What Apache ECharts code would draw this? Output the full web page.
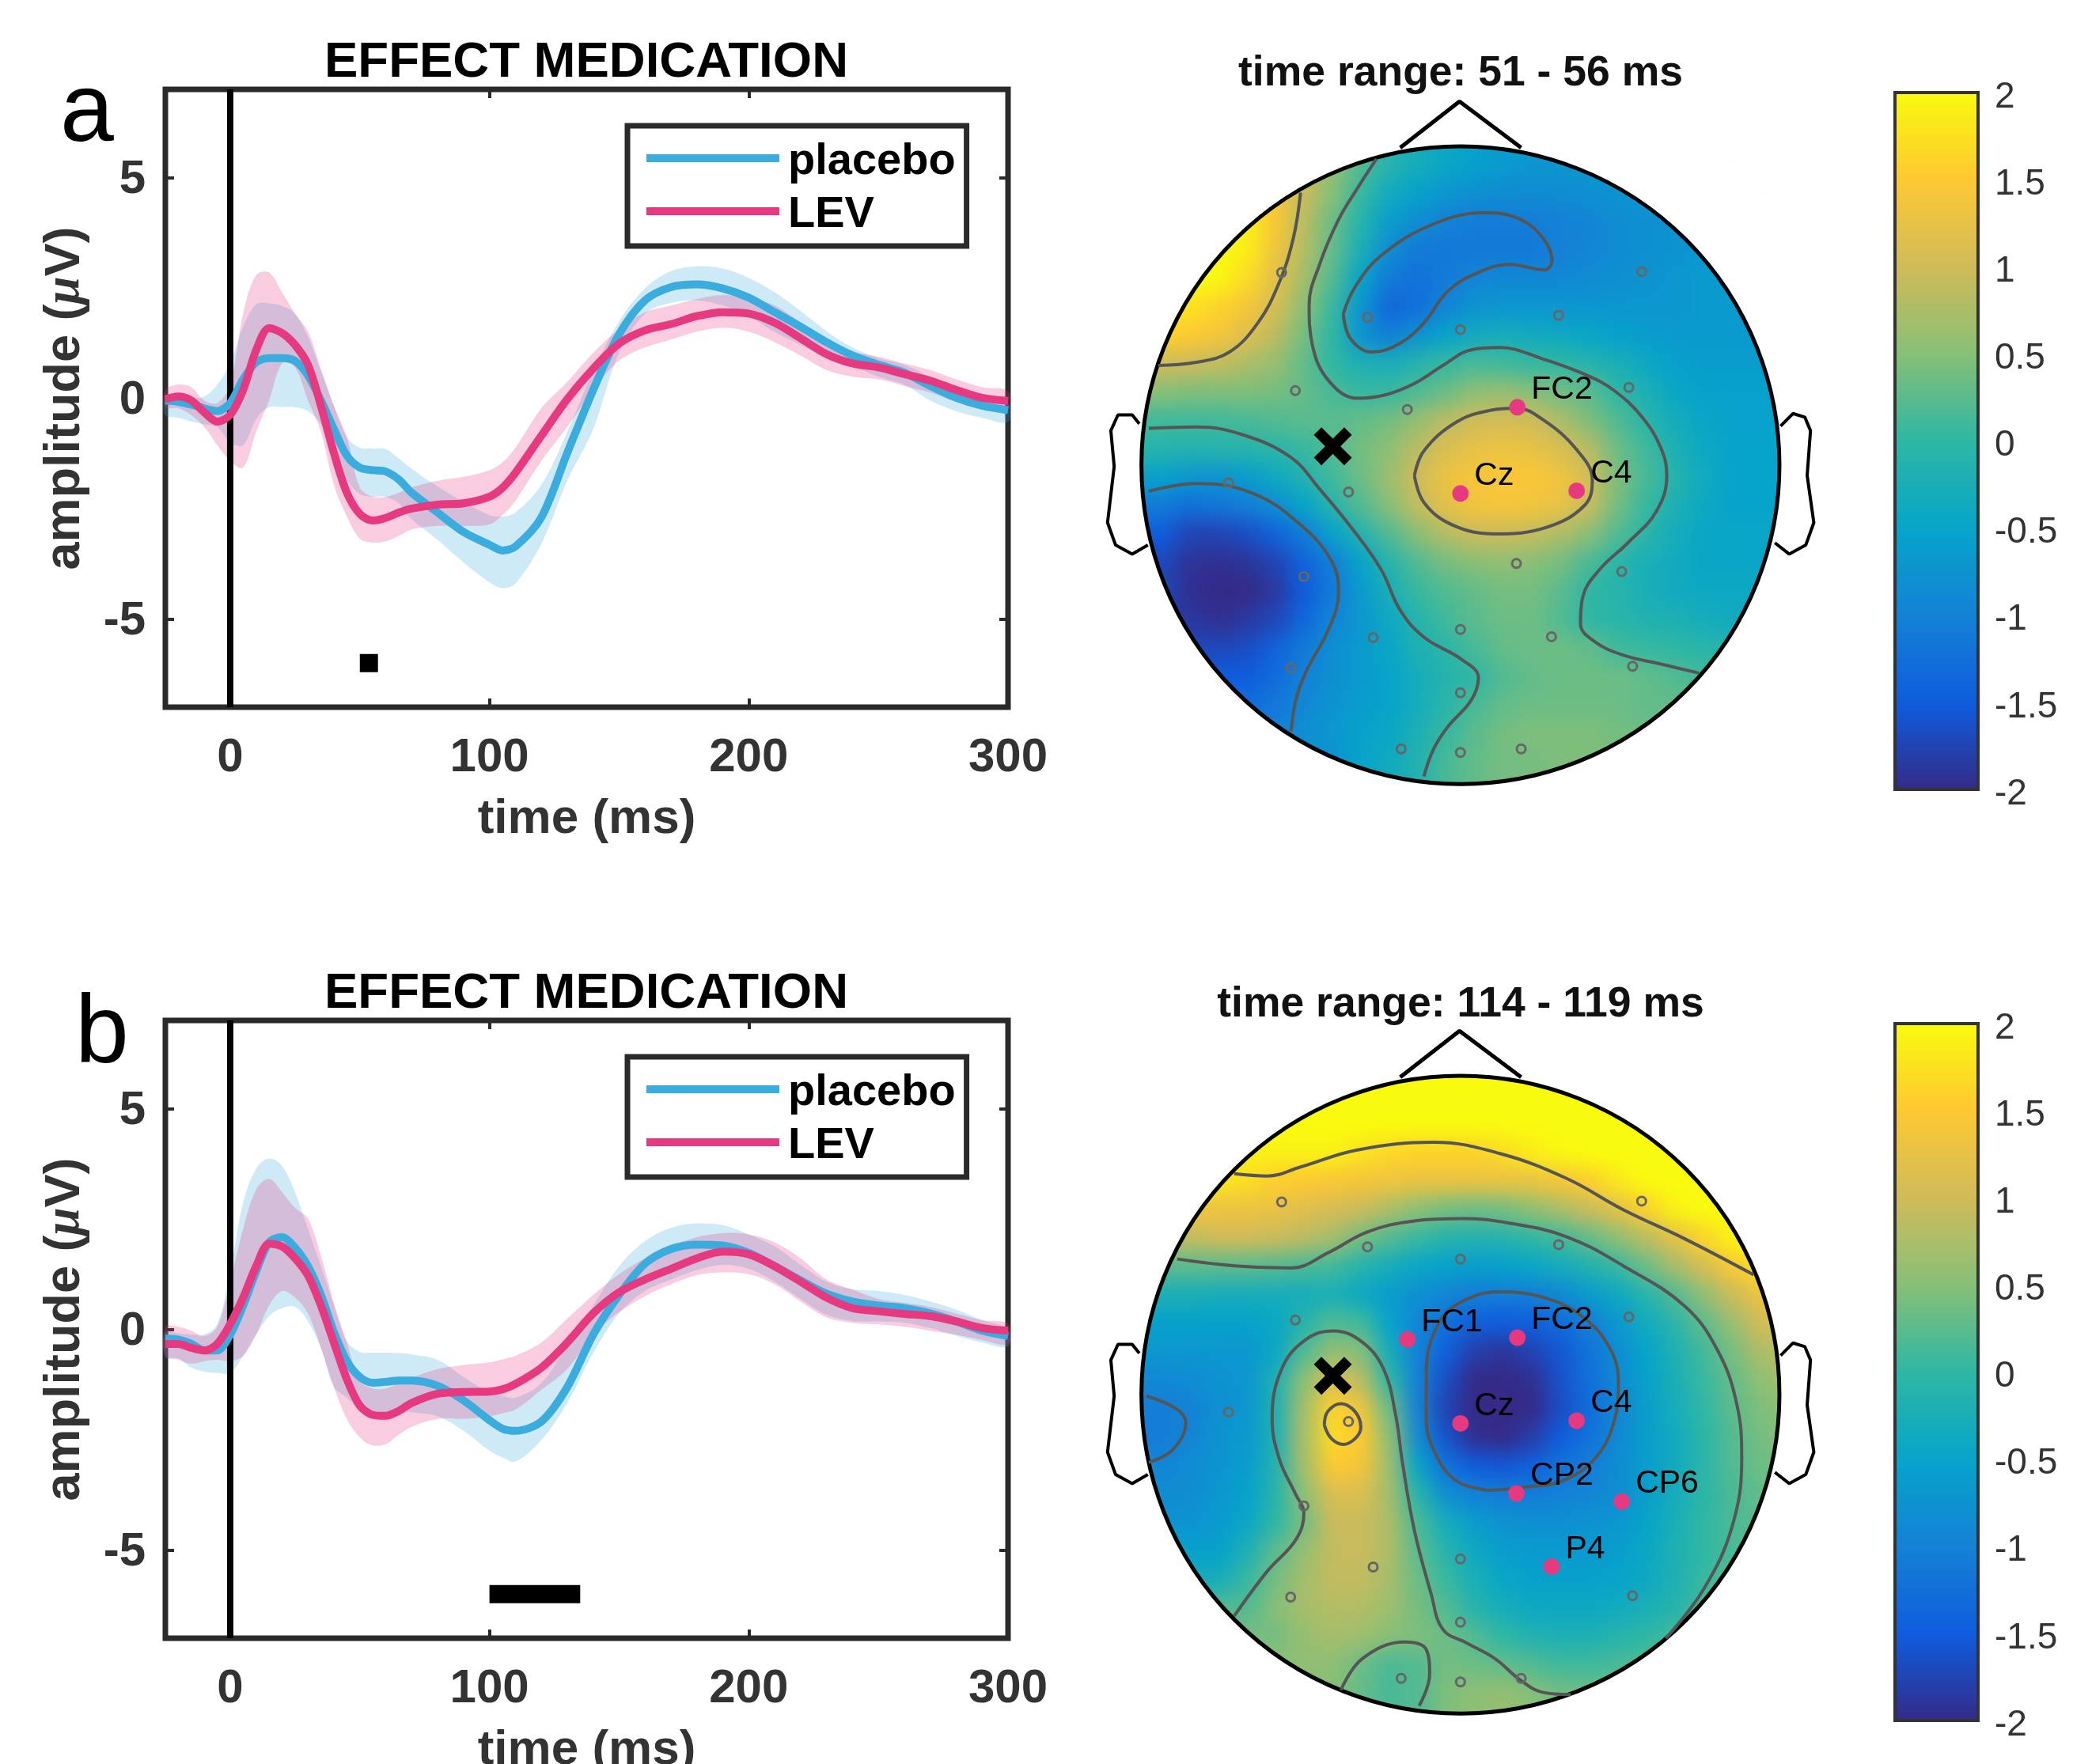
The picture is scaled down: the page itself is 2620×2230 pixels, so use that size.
<!DOCTYPE html>
<html><head><meta charset="utf-8">
<style>html,body{margin:0;padding:0;background:#fff}#main{width:2620px;height:2230px}
canvas[data-zr-dom-id="zr_-1"]{filter:blur(13px)}</style>
<script src="https://cdn.jsdelivr.net/npm/echarts@6/dist/echarts.min.js"></script></head>
<body><div id="main"></div>
<script>
const times=[-25,-20,-15,-10,-5,0,5,10,15,20,25,30,35,40,45,50,55,60,65,70,80,90,100,105,110,120,130,140,150,160,170,180,190,200,210,220,230,240,250,260,270,280,290,300];
const aPlacebo=[-.05,-.08,-.14,-.23,-.29,-.11,.43,.82,.91,.91,.85,.52,-.05,-.7,-1.3,-1.57,-1.63,-1.66,-1.84,-2.14,-2.59,-3.03,-3.32,-3.45,-3.36,-2.7,-1.24,.19,1.45,2.22,2.52,2.58,2.49,2.28,1.95,1.62,1.27,.97,.76,.58,.28,.01,-.17,-.27];
const aPlaceboHi=[.07,.04,.01,.04,.31,.79,1.62,2.13,2.15,2.09,1.92,1.39,.61,-.17,-.88,-1.12,-1.14,-1.15,-1.36,-1.6,-2,-2.35,-2.65,-2.68,-2.59,-1.96,-.76,.61,1.74,2.49,2.88,2.99,2.94,2.73,2.4,1.98,1.52,1.15,.91,.76,.49,.25,.04,-.11];
const aPlaceboLo=[-.38,-.44,-.53,-.59,-.65,-1,-1.06,-.47,-.2,-.2,-.2,-.29,-.59,-1.24,-1.84,-2.17,-2.23,-2.23,-2.38,-2.74,-3.21,-3.72,-4.17,-4.3,-4.2,-3.3,-1.87,-.7,1.03,1.92,2.16,2.22,2.1,1.86,1.5,1.21,.91,.73,.49,.31,-.05,-.29,-.44,-.54];
const aLev=[-.02,.04,-.05,-.32,-.53,-.38,.19,1.09,1.59,1.48,1.21,.76,-.17,-1.24,-2.14,-2.62,-2.77,-2.71,-2.59,-2.5,-2.41,-2.38,-2.23,-2.03,-1.69,-.85,-.02,.67,1.24,1.54,1.68,1.86,1.95,1.92,1.71,1.36,1,.79,.7,.55,.4,.19,.01,-.06];
const aLevHi=[.19,.31,.25,-.05,-.11,.31,1.92,2.79,2.85,2.4,1.92,1.51,.67,-.17,-.88,-2.02,-2.23,-2.23,-2.14,-2.02,-1.87,-1.78,-1.63,-1.45,-1.12,-.23,.37,1.03,1.57,1.95,2.1,2.25,2.34,2.28,2.1,1.71,1.27,1.06,.94,.79,.64,.43,.25,.16];
const aLevLo=[-.2,-.23,-.38,-.65,-1.06,-1.42,-1.57,-.76,-.05,.79,.7,-.05,-.76,-1.96,-2.68,-3.18,-3.27,-3.24,-3.12,-2.97,-2.89,-2.89,-2.86,-2.65,-2.32,-1.42,-.65,.19,.85,1.15,1.33,1.51,1.6,1.51,1.27,.97,.64,.49,.43,.28,.13,-.08,-.23,-.29];
const bPlacebo=[-.21,-.23,-.33,-.48,-.48,-.12,.54,1.31,1.97,2.09,1.85,1.43,.78,-.06,-.72,-1.08,-1.21,-1.19,-1.16,-1.16,-1.28,-1.61,-2.06,-2.25,-2.3,-2.09,-1.31,-.12,.78,1.49,1.82,1.92,1.9,1.73,1.43,1.11,.81,.63,.54,.48,.36,.18,-.03,-.15];
const bPlaceboHi=[-.06,-.09,-.12,-.12,.12,1.31,2.87,3.64,3.87,3.7,3.11,2.27,1.43,.54,-.27,-.51,-.53,-.53,-.54,-.57,-.69,-1.08,-1.43,-1.5,-1.55,-1.22,-.36,.54,1.43,2,2.3,2.4,2.36,2.15,1.88,1.46,1.08,.91,.87,.78,.63,.45,.21,0];
const bPlaceboLo=[-.63,-.66,-.87,-.96,-.99,-.99,-.6,-.12,.3,.48,.51,.18,-.42,-1.31,-1.55,-1.82,-1.88,-1.88,-1.88,-1.88,-1.97,-2.3,-2.75,-2.9,-3,-2.51,-1.67,-.54,.36,.87,1.13,1.34,1.46,1.37,1.08,.69,.33,.19,.18,.15,.03,-.15,-.3,-.39];
const bLev=[-.33,-.33,-.42,-.48,-.33,.12,.72,1.43,1.94,1.88,1.61,1.22,.54,-.3,-1.13,-1.73,-1.94,-1.96,-1.85,-1.67,-1.46,-1.42,-1.41,-1.36,-1.24,-.87,-.3,.36,.84,1.13,1.37,1.61,1.76,1.7,1.43,1.08,.72,.48,.41,.35,.3,.18,.03,-.03];
const bLevHi=[.06,.06,-.03,-.15,.06,1.08,2.28,3.17,3.41,3.11,2.75,2.51,1.67,.6,-.3,-1.16,-1.34,-1.34,-1.22,-1.1,-.9,-.81,-.75,-.68,-.6,-.3,.24,.78,1.25,1.61,1.88,2.09,2.18,2.15,1.97,1.61,1.13,.9,.69,.6,.51,.36,.21,.12];
const bLevLo=[-.6,-.69,-.78,-.72,-.69,-.72,-.6,-.12,.54,.87,.72,.36,-.42,-1.31,-2.03,-2.45,-2.63,-2.6,-2.39,-2.21,-2.03,-2.03,-1.97,-1.9,-1.82,-1.37,-.9,-.12,.39,.75,1.02,1.23,1.29,1.25,1.02,.63,.27,.15,.11,.06,-.03,-.12,-.24,-.33];
const sigA=[50,57], sigB=[100,135], sigLevel=-6;
const xTicks=[0,100,200,300], yTicks=[-5,0,5];
const seriesNames=['placebo','LEV'];
const titleText='EFFECT MEDICATION', xName='time (ms)';
const rangeA='time range: 51 - 56 ms', rangeB='time range: 114 - 119 ms';
const parula=['#352A87','#0F5CDD','#1481D6','#06A4CA','#2EB7A4','#87BF77','#D1BB59','#FEC832','#F9FB0E'];
const mapA=[
[1,1,1,1,1,1,1,.6,.2,-.1,-.3,-.45,-.55,-.65,-.7,-.7,-.7,-.7,-.7,-.7,-.7,-.7,-.7,-.7],
[1,1,1,1,1,1,1,.6,.2,-.1,-.3,-.45,-.55,-.65,-.7,-.7,-.7,-.7,-.7,-.7,-.7,-.7,-.7,-.7],
[1.7,1.7,1.7,1.7,1.7,1.4,.95,.5,.05,-.35,-.55,-.7,-.8,-.85,-.85,-.85,-.8,-.75,-.7,-.7,-.65,-.65,-.65,-.65],
[2,2,2,2,1.9,1.45,.85,.35,-.1,-.6,-.85,-1,-1.05,-1.05,-1.05,-1,-.95,-.85,-.8,-.75,-.7,-.65,-.65,-.65],
[2,2,2,2,1.85,1.35,.8,.3,-.25,-.85,-1.1,-1.12,-1.1,-1.1,-1.1,-1.02,-.95,-.85,-.8,-.75,-.7,-.65,-.65,-.65],
[2,2,2,1.95,1.7,1.2,.7,.2,-.5,-1.1,-1.2,-1.1,-.95,-.9,-.9,-.9,-.85,-.8,-.75,-.7,-.65,-.65,-.65,-.65],
[1.9,1.9,1.75,1.6,1.4,1.05,.55,.05,-.7,-1.35,-1.25,-.95,-.75,-.7,-.7,-.7,-.7,-.7,-.7,-.7,-.65,-.65,-.65,-.65],
[1.6,1.6,1.5,1.4,1.15,.85,.4,0,-.75,-1.05,-.75,-.5,-.35,-.3,-.35,-.4,-.45,-.55,-.6,-.65,-.65,-.65,-.65,-.65],
[1,1,.95,.9,.75,.6,.3,0,-.2,-.25,-.1,.05,.15,.1,.05,0,-.1,-.25,-.4,-.55,-.6,-.6,-.6,-.6],
[.5,.5,.45,.45,.45,.4,.3,.15,.05,.05,.2,.35,.55,.6,.5,.4,.25,0,-.2,-.45,-.55,-.55,-.55,-.55],
[.1,.1,.1,.1,.15,.2,.25,.25,.3,.4,.6,.85,1,1.05,1,.75,.45,.2,-.05,-.3,-.45,-.55,-.55,-.55],
[-.1,-.1,-.15,-.1,-.1,-.05,.05,.2,.4,.55,.85,1.1,1.25,1.3,1.25,1.1,.85,.35,.1,-.2,-.4,-.5,-.5,-.5],
[-.55,-.55,-.7,-.75,-.6,-.4,-.15,.1,.35,.65,1,1.3,1.4,1.45,1.45,1.35,1.05,.45,.15,-.1,-.35,-.5,-.5,-.5],
[-1.1,-1.1,-1.25,-1.15,-1.05,-.85,-.5,-.1,.2,.5,.9,1.2,1.35,1.4,1.35,1.25,.95,.4,.05,-.2,-.4,-.5,-.5,-.5],
[-1.5,-1.5,-1.75,-1.75,-1.65,-1.4,-1.1,-.55,-.15,.2,.5,.8,.95,.95,.9,.75,.5,.2,-.05,-.3,-.45,-.45,-.45,-.45],
[-1.7,-1.7,-1.9,-1.95,-1.9,-1.75,-1.4,-1.05,-.5,-.1,.2,.4,.5,.55,.5,.4,.15,-.05,-.25,-.35,-.45,-.45,-.45,-.45],
[-1.7,-1.7,-1.95,-2,-2,-1.85,-1.5,-1.1,-.65,-.25,.05,.2,.3,.4,.4,.25,0,-.1,-.25,-.35,-.4,-.4,-.4,-.4],
[-1.85,-1.85,-1.85,-1.95,-1.85,-1.7,-1.35,-.95,-.7,-.4,-.1,.1,.25,.35,.35,.2,0,-.05,-.15,-.2,-.3,-.35,-.35,-.35],
[-1.7,-1.7,-1.7,-1.7,-1.65,-1.4,-1.1,-.8,-.65,-.45,-.2,-.05,.15,.3,.35,.35,.3,.1,.05,0,-.05,-.1,-.1,-.1],
[-1.5,-1.5,-1.5,-1.5,-1.5,-1.3,-1,-.8,-.65,-.5,-.3,-.1,0,.2,.3,.35,.35,.35,.3,.2,.1,.1,.1,.1],
[-1.3,-1.3,-1.3,-1.3,-1.25,-1.15,-.9,-.75,-.6,-.5,-.3,-.05,.15,.3,.35,.35,.35,.35,.3,.3,.3,.3,.3,.3],
[-1,-1,-1,-1,-1,-1,-.8,-.7,-.55,-.45,-.2,.05,.25,.4,.45,.45,.45,.4,.35,.3,.3,.3,.3,.3],
[-.8,-.8,-.8,-.8,-.8,-.8,-.8,-.8,-.5,-.35,-.15,.15,.3,.4,.4,.45,.45,.4,.4,.4,.4,.4,.4,.4],
[-.8,-.8,-.8,-.8,-.8,-.8,-.8,-.8,-.5,-.35,-.15,.15,.3,.4,.4,.45,.45,.4,.4,.4,.4,.4,.4,.4]];
const mapB=[
[2,2,2,2,2,2,2,2,2,2,2,2,2,2,2,2,2,2,2,2,2,2,2,2],
[2,2,2,2,2,2,2,2,2,2,2,2,2,2,2,2,2,2,2,2,2,2,2,2],
[2,2,2,2,2,2,2,2,2,2,2,2,2,2,2,2,2,2,2,2,2,2,2,2],
[1.9,1.9,1.9,1.9,1.9,1.9,1.9,1.9,1.75,1.65,1.6,1.6,1.6,1.7,1.85,1.95,2,2,2,2,2,2,2,2],
[1.8,1.8,1.8,1.8,1.7,1.55,1.5,1.45,1.4,1.35,1.3,1.3,1.3,1.3,1.3,1.4,1.55,1.8,2,2,2,2,2,2],
[1.4,1.4,1.4,1.3,1.3,1.25,1.15,1.05,.95,.75,.55,.4,.35,.4,.55,.75,.95,1.2,1.55,1.9,2,2,2,2],
[.9,.9,.9,1,1,.95,.85,.7,.4,.2,.05,-.1,-.15,-.1,0,.1,.3,.55,.85,1.2,1.6,1.9,2,2],
[.25,.25,.25,.25,.25,.2,.15,.1,-.1,-.3,-.45,-.55,-.6,-.55,-.45,-.3,-.15,.05,.35,.7,1.05,1.45,1.7,1.7],
[-.25,-.25,-.25,-.3,-.3,-.3,-.3,-.25,-.4,-.6,-.8,-.95,-1.05,-1.05,-1.05,-.9,-.65,-.4,-.1,.2,.55,.95,1.3,1.3],
[-.55,-.55,-.55,-.55,-.55,-.45,-.1,.2,.1,-.5,-.95,-1.25,-1.45,-1.5,-1.45,-1.3,-1.05,-.7,-.35,-.05,.25,.6,1,1.1],
[-.7,-.7,-.7,-.7,-.7,-.45,.2,.6,.5,-.3,-1,-1.45,-1.8,-1.9,-1.75,-1.55,-1.2,-.85,-.5,-.2,.1,.4,.75,.85],
[-.9,-.9,-.85,-.75,-.7,-.2,.55,1.1,.85,0,-1,-1.65,-2,-2,-1.95,-1.6,-1.25,-.9,-.55,-.25,.05,.3,.55,.7],
[-1.05,-1.05,-1,-.8,-.7,-.2,.7,1.6,1.35,.35,-1,-1.75,-2,-2,-2,-1.65,-1.3,-.95,-.6,-.3,0,.25,.45,.55],
[-1.05,-1.05,-.95,-.75,-.65,-.2,.75,1.7,1.5,.55,-.85,-1.6,-1.95,-2,-1.8,-1.5,-1.2,-.9,-.6,-.35,-.05,.2,.4,.5],
[-.95,-.95,-.85,-.75,-.6,-.15,.7,1.5,1.4,.65,-.5,-1.2,-1.5,-1.55,-1.45,-1.2,-1.05,-.85,-.6,-.35,-.05,.2,.35,.4],
[-.85,-.85,-.85,-.7,-.55,-.1,.55,1.1,1.1,.7,-.1,-.8,-1,-1.05,-1.05,-1,-.95,-.85,-.6,-.3,-.05,.15,.3,.3],
[-.75,-.75,-.75,-.65,-.45,0,.4,.95,.95,.75,.15,-.3,-.6,-.75,-.8,-.8,-.75,-.7,-.5,-.25,0,.15,.25,.3],
[-.55,-.55,-.55,-.55,-.2,.25,.6,.9,.95,.75,.25,-.1,-.4,-.6,-.65,-.65,-.65,-.6,-.45,-.2,0,.15,.25,.3],
[-.3,-.3,-.3,-.3,.05,.4,.7,.9,.9,.7,.35,.05,-.25,-.45,-.55,-.55,-.55,-.5,-.4,-.2,.05,.2,.25,.3],
[.2,.2,.2,.2,.2,.5,.7,.8,.8,.65,.4,.2,-.1,-.3,-.4,-.4,-.4,-.35,-.25,-.1,.1,.25,.25,.25],
[.4,.4,.4,.4,.4,.4,.6,.7,.65,.5,.45,.35,.2,0,-.15,-.2,-.2,-.1,0,.1,.2,.25,.25,.25],
[.55,.55,.55,.55,.55,.55,.55,.55,.35,.15,.2,.4,.35,.3,.2,.1,.1,.15,.2,.3,.3,.3,.3,.3],
[.5,.5,.5,.5,.5,.5,.5,.5,.3,.15,.2,.45,.55,.6,.5,.4,.35,.35,.35,.35,.35,.35,.35,.35],
[.5,.5,.5,.5,.5,.5,.5,.5,.3,.15,.2,.45,.55,.6,.5,.4,.35,.35,.35,.35,.35,.35,.35,.35]];
const greyElectrodes=[[400,378],[1159,376],[581,478],[984,473],[777,505],[429,641],[1132,634],[665,683],[288,846],[541,867],[895,1026],[1117,1044],[447,1055],[777,1173],[593,1191],[969,1189],[419,1258],[1140,1255],[777,1314],[652,1439],[777,1447],[905,1439]];
const redA=[['FC2',897,678],['Cz',777,870],['C4',1022,864]];
const redB=[['FC1',665,684],['FC2',897,680],['Cz',777,871],['C4',1022,865],['CP2',895,1027],['CP6',1117,1045],['P4',969,1190]];
const crossAt=[508,765];
const headCentre=[777,807], headRadius=672.5;
const nose=[[650,100],[775,-3],[905,100]];
const earL=[[100,715],[85,695],[55,695],[40,730],[47,810],[33,935],[50,985],[85,1005],[118,985]];
const earR=[[1452,720],[1478,692],[1503,700],[1515,730],[1508,830],[1522,935],[1505,985],[1470,1005],[1440,980]];
const contoursA=[
[[440,200],[425,300],[395,400],[350,490],[290,555],[220,578],[140,585]],
[[600,125],[560,190],[520,260],[480,360],[458,450],[465,540],[500,620],[560,658],[620,650],[680,625],[740,585],[800,550],[860,545],[950,570],[1040,605],[1100,640],[1160,700],[1200,770],[1212,830],[1190,910],[1130,980],[1070,1040],[1035,1100],[1030,1160],[1060,1200],[1120,1230],[1200,1250],[1280,1270]],
[[120,725],[220,722],[320,740],[420,790],[480,860],[550,950],[610,1040],[650,1130],[700,1190],[780,1240],[815,1280],[800,1330],[750,1390],[720,1440],[700,1500]],
[[530,470],[555,410],[610,340],[720,270],[830,245],[900,258],[950,300],[970,350],[955,372],[880,360],[810,380],[750,420],[700,490],[650,535],[590,555],[545,525],[530,470]],
[[120,865],[220,848],[340,870],[440,940],[505,1020],[520,1090],[500,1170],[450,1270],[430,1330],[420,1400]],
[[680,830],[700,775],[770,710],[840,685],[895,680],[950,705],[1020,770],[1055,840],[1040,895],[960,945],[850,960],[760,940],[700,890],[680,830]]];
const contoursB=[
[[300,315],[370,320],[440,300],[560,262],[720,245],[860,270],[1000,325],[1120,395],[1250,460],[1395,540]],
[[180,505],[300,520],[420,525],[500,490],[580,445],[680,420],[780,415],[880,425],[1000,455],[1120,520],[1250,610],[1320,710],[1360,830],[1370,950],[1350,1100],[1290,1240],[1210,1350]],
[[1010,1475],[950,1470],[900,1440],[850,1395],[790,1360],[740,1330],[715,1250],[680,1110],[655,960],[640,850],[615,750],[570,690],[510,665],[450,685],[400,750],[380,860],[395,950],[430,1030],[447,1070],[430,1130],[370,1200],[300,1300]],
[[115,810],[180,840],[198,870],[170,930],[120,958]],
[[525,1465],[570,1395],[660,1358],[705,1375],[712,1430],[690,1500]],
[[840,1020],[770,1000],[725,940],[705,860],[705,760],[730,650],[780,600],[860,578],[950,590],[1030,630],[1090,700],[1110,780],[1100,870],[1060,950],[990,1000],[920,1012],[840,1020]],
[[490,875],[497,845],[525,827],[555,845],[567,880],[555,905],[530,918],[505,905],[490,875]]];

const FONT='"Liberation Sans", Arial, sans-serif', FRAME='#2a2a2a', BLUE='#3AACDE', PINK='#E6397F';
const grid=[],xAxis=[],yAxis=[],series=[],legend=[],title=[],heatIdx=[];
function addGrid(g){grid.push({outerBoundsMode:'none',...g});return grid.length-1;}
function band(name,x,y,t,hi,lo,color){
  series.push({type:'custom',name,xAxisIndex:x,yAxisIndex:y,z:2,clip:false,data:t.map((v,i)=>[v,lo[i],hi[i]]),encode:{x:0,y:[1,2]},silent:true,
    renderItem(p,api){ if(p.dataIndex!==0) return null;
      const pts=[]; t.forEach((v,i)=>pts.push(api.coord([v,hi[i]]))); for(let i=t.length-1;i>=0;i--) pts.push(api.coord([t[i],lo[i]]));
      return {type:'polygon',shape:{points:pts,smooth:0.35},style:{fill:color}};}});
}
function plot(top,d,sig,ttop,legTop){
  const g=addGrid({left:209,width:1065,top,height:781,show:true,borderColor:FRAME,borderWidth:7,backgroundColor:'transparent'});
  const ix=xAxis.length,iy=yAxis.length;
  const tick={show:true,inside:true,length:11,lineStyle:{color:FRAME,width:4}};
  const noLine={show:false,onZero:false};
  xAxis.push({gridIndex:g,type:'value',min:-25,max:300,position:'bottom',splitLine:{show:false},axisLine:noLine,
    axisTick:{...tick,customValues:xTicks},axisLabel:{customValues:xTicks,margin:34,fontFamily:FONT,fontWeight:'bold',fontSize:60,color:'#333'},
    name:xName,nameLocation:'middle',nameGap:111,nameTextStyle:{fontFamily:FONT,fontWeight:'bold',fontSize:62,color:'#333'}});
  xAxis.push({gridIndex:g,type:'value',min:-25,max:300,position:'top',splitLine:{show:false},axisLine:noLine,axisLabel:{show:false},axisTick:{...tick,customValues:xTicks}});
  yAxis.push({gridIndex:g,type:'value',min:-7,max:7,position:'left',splitLine:{show:false},axisLine:noLine,
    axisTick:{...tick,customValues:yTicks},axisLabel:{customValues:yTicks,margin:25,verticalAlign:'top',lineHeight:6,fontFamily:FONT,fontWeight:'bold',fontSize:60,color:'#333'},
    name:'{b|amplitude (}{i|\u03bc}{b|V)}',nameLocation:'middle',nameGap:95,
    nameTextStyle:{rich:{b:{fontFamily:FONT,fontWeight:'bold',fontSize:63,color:'#333'},i:{fontFamily:'"Liberation Serif"',fontStyle:'italic',fontWeight:'bold',fontSize:63,color:'#333'}}}});
  yAxis.push({gridIndex:g,type:'value',min:-7,max:7,position:'right',splitLine:{show:false},axisLine:noLine,axisLabel:{show:false},axisTick:{...tick,customValues:yTicks}});
  band('placebo band',ix,iy,times,d.pH,d.pL,'rgba(58,172,222,.25)');
  band('LEV band',ix,iy,times,d.lH,d.lL,'rgba(230,57,127,.25)');
  series.push({type:'line',name:'stimulus',xAxisIndex:ix,yAxisIndex:iy,z:3,symbol:'none',silent:true,lineStyle:{color:'#000',width:8},data:[[0,-7],[0,7]]});
  series.push({type:'line',name:'significant',xAxisIndex:ix,yAxisIndex:iy,z:3,symbol:'none',silent:true,lineStyle:{color:'#000',width:23,cap:'butt'},data:sig.map(v=>[v,sigLevel])});
  [[seriesNames[0],d.p,BLUE],[seriesNames[1],d.l,PINK]].forEach(([n,v,c])=>series.push({type:'line',name:n,xAxisIndex:ix,yAxisIndex:iy,z:4,smooth:0.3,symbol:'none',clip:false,
    itemStyle:{color:c},lineStyle:{color:c,width:10},data:times.map((t,i)=>[t,v[i]])}));
  title.push({text:titleText,left:741,top:ttop,padding:0,textAlign:'center',textStyle:{fontFamily:FONT,fontWeight:'bold',fontSize:63.5,color:'#000'}});
  const txt={fontFamily:FONT,fontWeight:'bold',fontSize:56,lineHeight:56,color:'#000'};
  legend.push({left:793,top:legTop,orient:'vertical',padding:[8,14,11,24],itemWidth:168,itemHeight:10,itemGap:1,selectedMode:false,
    backgroundColor:'#fff',borderColor:FRAME,borderWidth:7,borderRadius:0,formatter:'{t|{name}}',
    data:seriesNames.map(n=>({name:n,icon:'rect'})),textStyle:{...txt,rich:{t:{...txt,padding:[10,0,0,6]}}}});
}
function topo(mapTop,cellTop,matrix,red,contours,rangeText,rangeTop,barTop){
  const h=addGrid({left:1414,top:cellTop,width:864,height:864});
  const hx=xAxis.length,hy=yAxis.length;
  const cats=matrix[0].map((_,i)=>i);
  xAxis.push({gridIndex:h,type:'category',data:cats,show:false});
  yAxis.push({gridIndex:h,type:'category',data:matrix.map((_,i)=>i),inverse:true,show:false});
  const cells=[]; matrix.forEach((row,j)=>row.forEach((v,i)=>{ if((i-11.5)**2+(j-11.5)**2<12.9*12.9) cells.push([i,j,v]); }));
  heatIdx.push(series.length);
  series.push({type:'heatmap',name:'scalp',xAxisIndex:hx,yAxisIndex:hy,zlevel:-1,progressive:0,silent:true,data:cells});
  const g=addGrid({left:1380,top:mapTop,width:940,height:890});
  const ix=xAxis.length,iy=yAxis.length;
  xAxis.push({gridIndex:g,type:'value',min:0,max:1568,show:false});
  yAxis.push({gridIndex:g,type:'value',min:0,max:1568,inverse:true,show:false});
  series.push({type:'custom',name:'head',xAxisIndex:ix,yAxisIndex:iy,z:1,silent:true,data:[headCentre],
    renderItem(p,api){const c=api.coord(headCentre),r=api.size([headRadius,0])[0];
      return {type:'group',children:[
        {type:'ring',shape:{cx:c[0],cy:c[1],r:r+110,r0:r},style:{fill:'#fff'}},
        {type:'circle',shape:{cx:c[0],cy:c[1],r},style:{fill:'none',stroke:'#000',lineWidth:5}}]};}});
  const ln=(d,o)=>series.push({type:'line',xAxisIndex:ix,yAxisIndex:iy,z:3,symbol:'none',silent:true,clip:false,data:d,...o});
  ln(nose,{name:'outline',lineStyle:{color:'#000',width:5}});
  [earL,earR].forEach(d=>ln(d,{name:'outline',lineStyle:{color:'#000',width:4}}));
  contours.forEach(d=>ln(d,{name:'contour',smooth:0.4,lineStyle:{color:'#555',width:4}}));
  series.push({type:'scatter',name:'electrodes',xAxisIndex:ix,yAxisIndex:iy,z:4,silent:true,symbol:'circle',symbolSize:11,itemStyle:{color:'rgba(0,0,0,0)',borderColor:'#666',borderWidth:3,opacity:1},
    data:greyElectrodes.filter(e=>!red.some(r=>Math.abs(r[1]-e[0])<4&&Math.abs(r[2]-e[1])<8))});
  series.push({type:'scatter',name:'significant electrodes',xAxisIndex:ix,yAxisIndex:iy,z:5,silent:true,symbol:'circle',symbolSize:21,itemStyle:{color:PINK,opacity:1},
    label:{show:true,position:'right',distance:7,offset:[0,-22],formatter:p=>p.data[2],fontFamily:FONT,fontSize:41,color:'#000'},
    data:red.map(r=>[r[1],r[2],r[0]])});
  series.push({type:'scatter',name:'peak',xAxisIndex:ix,yAxisIndex:iy,z:5,silent:true,symbol:'path://M2 0 L5 3 L8 0 L10 2 L7 5 L10 8 L8 10 L5 7 L2 10 L0 8 L3 5 L0 2 Z',symbolSize:48,itemStyle:{color:'#000',opacity:1},data:[crossAt]});
  title.push({text:rangeText,left:1846,top:rangeTop,padding:0,textAlign:'center',textStyle:{fontFamily:FONT,fontWeight:'bold',fontSize:53.5,color:'#111'}});
  const b=addGrid({left:2395,top:barTop,width:105,height:881});
  const bx=xAxis.length,by=yAxis.length;
  xAxis.push({gridIndex:b,type:'value',min:0,max:1,show:false});
  yAxis.push({gridIndex:b,type:'value',min:-2,max:2,interval:.5,position:'right',splitLine:{show:false},axisLine:{show:false,onZero:false},
    axisTick:{show:true,inside:true,length:10,lineStyle:{color:'#333',width:3}},axisLabel:{margin:21,verticalAlign:'top',lineHeight:12,fontFamily:FONT,fontSize:46,color:'#333'}});
  series.push({type:'custom',name:'colorbar',xAxisIndex:bx,yAxisIndex:by,z:1,silent:true,data:[[0,-2]],
    renderItem(p,api){const a=api.coord([0,2]),e=api.coord([1,-2]);
      const stops=parula.map((c,i)=>({offset:1-i/(parula.length-1),color:c})).reverse();
      return {type:'rect',shape:{x:a[0],y:a[1],width:e[0]-a[0],height:e[1]-a[1]},
        style:{fill:new echarts.graphic.LinearGradient(0,0,0,1,stops),stroke:'#333',lineWidth:4}};}});
}
plot(113,{p:aPlacebo,pH:aPlaceboHi,pL:aPlaceboLo,l:aLev,lH:aLevHi,lL:aLevLo},sigA,47,159);
plot(1290,{p:bPlacebo,pH:bPlaceboHi,pL:bPlaceboLo,l:bLev,lH:bLevHi,lL:bLevLo},sigB,1224,1336);
topo(130,154,mapA,redA,contoursA,rangeA,66,117);
topo(1305,1331,mapB,redB,contoursB,rangeB,1243,1294);
const chart=echarts.init(document.getElementById('main'),null,{renderer:'canvas'});
chart.setOption({animation:false,backgroundColor:'transparent',grid,xAxis,yAxis,series,legend,title,
  visualMap:{type:'continuous',show:false,min:-2,max:2,seriesIndex:heatIdx,dimension:2,inRange:{color:parula}},
  graphic:[
    {type:'text',left:76,top:83,style:{text:'a',fontFamily:FONT,fontSize:122,fill:'#000'}},
    {type:'text',left:95,top:1248,style:{text:'b',fontFamily:FONT,fontSize:122,fill:'#000'}}]});
</script></body></html>
